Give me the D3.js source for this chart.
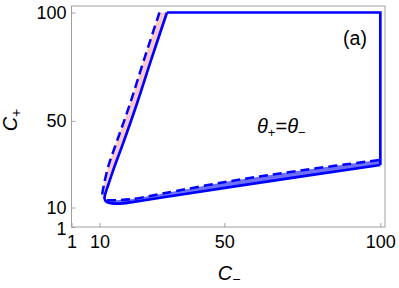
<!DOCTYPE html>
<html>
<head>
<meta charset="utf-8">
<script src="https://cdn.jsdelivr.net/npm/d3@7"></script>
<style>
  body { margin: 0; background: #fff; }
  svg { font-family: "Liberation Sans", Arial, sans-serif; }
</style>
</head>
<body>
<div id="chart"></div>
<script>
// data: [C-, C+]
var solidBranch = [
  [31.6, 100], [26.5, 78], [21.8, 57.2], [17.5, 39.5], [14.8, 29],
  [12.8, 20.5], [11.9, 16.6], [11.6, 14.2], [12.1, 12.8], [13.2, 12.1],
  [15, 11.8], [17.5, 11.9], [21, 12.6], [30, 14.6], [55, 20.1], [100, 29.6]
];
var solidEdge = [[100, 29.6], [100, 100], [31.6, 100]];
var dashLeft = [
  [29.2, 100], [24.2, 78], [19.6, 57.2], [15.3, 39.5], [12.8, 29],
  [11.4, 20.5], [10.9, 16.6], [10.9, 15.0]
];
var dashBottom = [
  [12.4, 13.4], [15, 13.4], [20, 13.8], [30, 16.4], [52, 22.2], [75, 27.2], [100, 32]
];
var xTicks = [1, 10, 50, 100];
var yTicks = [1, 10, 50, 100];

var width = 399, height = 288;
var margin = {top: 6, right: 14, bottom: 61, left: 71.5};

var svg = d3.select("#chart")
  .append("svg")
  .attr("width", width)
  .attr("height", height);

var x = d3.scaleLinear()
  .domain([1, 101.5])
  .range([margin.left, width - margin.right]);

var y = d3.scaleLinear()
  .domain([1, 103])
  .range([height - margin.bottom, margin.top]);

var line = d3.line()
  .x(d => x(d[0]))
  .y(d => y(d[1]));

var smooth = d3.line()
  .x(d => x(d[0]))
  .y(d => y(d[1]))
  .curve(d3.curveCatmullRom.alpha(0.5));

// filled bands between dashed and solid boundaries
var leftSolid = solidBranch.slice(0, 8);
var bottomSolid = solidBranch.slice(7);

svg.append("path")
  .attr("d", line(dashLeft.concat(leftSolid.slice().reverse())) + "Z")
  .attr("fill", "#fcc8c8")
  .attr("stroke", "none");

svg.append("path")
  .attr("d", line(dashBottom.concat(bottomSolid.slice().reverse())) + "Z")
  .attr("fill", "#6f6fff")
  .attr("stroke", "none");

// frame
svg.append("rect")
  .attr("x", x(1))
  .attr("y", margin.top)
  .attr("width", x(101.5) - x(1))
  .attr("height", y(1) - margin.top)
  .attr("fill", "none")
  .attr("stroke", "#a0a0a0")
  .attr("stroke-width", 1);

var xAxis = g => g
  .attr("transform", `translate(0,${y(1)})`)
  .call(d3.axisBottom(x).tickValues(xTicks).tickSizeInner(-4).tickSizeOuter(0).tickPadding(8))
  .call(g => g.select(".domain").remove());

var yAxis = g => g
  .attr("transform", `translate(${x(1)},0)`)
  .call(d3.axisLeft(y).tickValues(yTicks).tickSizeInner(-4).tickSizeOuter(0).tickPadding(5))
  .call(g => g.select(".domain").remove())
  // the "1" label sits a touch lower, clear of "10"
  .call(g => g.selectAll(".tick text").filter(d => d === 1).attr("y", 1.5));

svg.append("g").call(xAxis);
svg.append("g").call(yAxis);

svg.selectAll(".tick line").attr("stroke", "#a0a0a0");
svg.selectAll(".tick text")
  .attr("fill", "#000")
  .style("font-size", "18px")
  .style("font-family", "Liberation Sans, Arial, sans-serif");

// curves
svg.append("path")
  .attr("d", smooth(solidBranch))
  .attr("fill", "none")
  .attr("stroke", "#0000ff")
  .attr("stroke-width", 2.7);

svg.append("path")
  .attr("d", line(solidEdge))
  .attr("fill", "none")
  .attr("stroke", "#0000ff")
  .attr("stroke-width", 2.7);

svg.append("path")
  .attr("d", smooth(dashLeft))
  .attr("fill", "none")
  .attr("stroke", "#0000ff")
  .attr("stroke-width", 2.5)
  .attr("stroke-dasharray", "9,5");

svg.append("path")
  .attr("d", smooth(dashBottom))
  .attr("fill", "none")
  .attr("stroke", "#0000ff")
  .attr("stroke-width", 2.5)
  .attr("stroke-dasharray", "9,5");

// labels
var xl = svg.append("text")
  .attr("x", 229)
  .attr("y", 280)
  .attr("text-anchor", "middle")
  .style("font-size", "20px")
  .style("font-style", "italic");
xl.append("tspan").text("C");
xl.append("tspan").attr("dy", 4).style("font-size", "14px").style("font-style", "normal").text("\u2212");

var yl = svg.append("text")
  .attr("transform", "translate(17,120) rotate(-90)")
  .attr("text-anchor", "middle")
  .style("font-size", "20px")
  .style("font-style", "italic");
yl.append("tspan").text("C");
yl.append("tspan").attr("dy", 4).style("font-size", "14px").style("font-style", "normal").text("+");

svg.append("text")
  .attr("x", 355)
  .attr("y", 45)
  .attr("text-anchor", "middle")
  .style("font-size", "19.5px")
  .text("(a)");

var th = svg.append("text")
  .attr("x", 257)
  .attr("y", 133)
  .style("font-size", "20px");
th.append("tspan").style("font-style", "italic").text("\u03B8");
th.append("tspan").attr("dy", 4).style("font-size", "13px").text("+");
th.append("tspan").attr("dy", -4).text("=");
th.append("tspan").style("font-style", "italic").text("\u03B8");
th.append("tspan").attr("dy", 4).style("font-size", "13px").text("\u2212");
</script>
</body>
</html>
